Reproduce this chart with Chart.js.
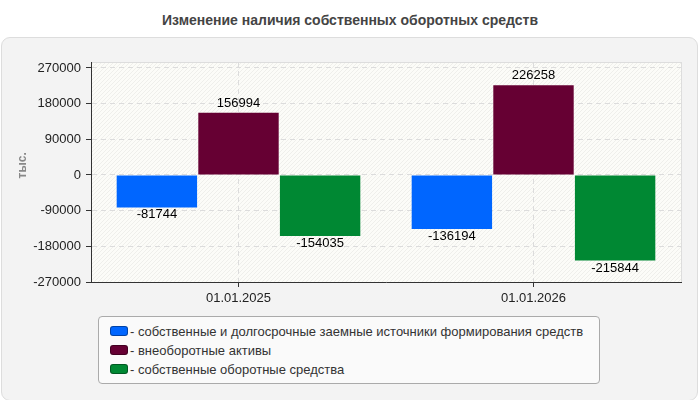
<!DOCTYPE html>
<html>
<head>
<meta charset="utf-8">
<script src="https://cdn.jsdelivr.net/npm/chart.js@4"></script>
<style>
  body { margin: 0; background: #fff; font-family: "Liberation Sans", Arial, sans-serif; }
  #wrap { position: relative; width: 700px; height: 400px; overflow: hidden; }
  #title { position: absolute; left: 0; top: 12px; width: 700px; text-align: center;
           font-weight: bold; font-size: 14px; color: #444; }
  #panel { position: absolute; left: 1px; top: 37px; width: 695px; height: 362px;
           background: #f3f3f3; border: 1px solid #ddd; border-radius: 9px; }
  #myChart { position: absolute; left: 0; top: 0; }
  #legend { position: absolute; left: 98px; top: 316px; width: 500px; height: 66px;
            background: #fafafa; border: 1px solid #aaa; border-radius: 4px; }
  .item { position: absolute; left: 11px; font-size: 13px; color: #333; line-height: 15px; white-space: nowrap; }
  .swatch { display: inline-block; width: 16px; height: 8px; border-radius: 3px;
            border: 1px solid rgba(0,0,0,0.35); margin-right: 2px; vertical-align: 0px; }
</style>
</head>
<body>
<div id="wrap">
  <div id="title">Изменение наличия собственных оборотных средств</div>
  <div id="panel"></div>
  <canvas id="myChart" width="700" height="400"></canvas>
  <div id="legend"></div>
</div>
<script>
const categories = ['01.01.2025', '01.01.2026'];
const seriesNames = [
    'собственные и долгосрочные заемные источники формирования средств',
    'внеоборотные активы',
    'собственные оборотные средства'
];
const ownAndLongTerm = [-81744, -136194];
const nonCurrentAssets = [156994, 226258];
const ownWorkingCapital = [-154035, -215844];
const seriesColors = ['#0066ff', '#660033', '#008833'];
const yTicks = [-270000, -180000, -90000, 0, 90000, 180000, 270000];
const yAxisTitle = 'тыс.';

const ctx = document.getElementById('myChart');

function makeHatch() {
    const c = document.createElement('canvas');
    c.width = 4; c.height = 4;
    const g = c.getContext('2d');
    g.fillStyle = '#fcfcf8';
    g.fillRect(0, 0, 4, 4);
    g.strokeStyle = 'rgba(0,0,0,0.05)';
    g.lineWidth = 1;
    g.beginPath();
    g.moveTo(0, 4); g.lineTo(4, 0);
    g.stroke();
    return c;
}

const plotBackground = {
    id: 'plotBackground',
    beforeDraw(chart) {
        const a = chart.chartArea;
        const g = chart.ctx;
        g.save();
        g.fillStyle = g.createPattern(makeHatch(), 'repeat');
        g.fillRect(a.left, a.top, a.right - a.left, a.bottom - a.top);
        g.strokeStyle = '#dddddd';
        g.lineWidth = 1;
        g.strokeRect(a.left + 0.5, a.top + 0.5, a.right - a.left, a.bottom - a.top);
        g.restore();
    }
};

const valueLabels = {
    id: 'valueLabels',
    afterDatasetsDraw(chart) {
        const g = chart.ctx;
        g.save();
        g.font = '13px "Liberation Sans", Arial, sans-serif';
        g.fillStyle = '#000';
        g.textAlign = 'center';
        chart.data.datasets.forEach(function (ds, i) {
            chart.getDatasetMeta(i).data.forEach(function (bar, j) {
                const v = ds.data[j];
                if (v >= 0) {
                    g.textBaseline = 'bottom';
                    g.fillText(v, bar.x, bar.y - 3);
                } else {
                    g.textBaseline = 'top';
                    g.fillText(v, bar.x, bar.y + 1);
                }
            });
        });
        g.restore();
    }
};

const seriesData = [ownAndLongTerm, nonCurrentAssets, ownWorkingCapital];

const graph = new Chart(ctx, {
    type: 'bar',
    data: {
        labels: categories,
        datasets: seriesData.map(function (d, i) {
            return {
                label: seriesNames[i],
                data: d,
                backgroundColor: seriesColors[i],
                categoryPercentage: 0.83,
                barPercentage: 0.985
            };
        })
    },
    options: {
        responsive: false,
        animation: false,
        layout: { padding: { left: 0, right: 19, top: 62, bottom: 88 } },
        plugins: {
            legend: { display: false },
            tooltip: { enabled: false }
        },
        scales: {
            x: {
                afterFit: function (s) { s.height = 30; },
                grid: {
                    offset: false,
                    color: '#dcdcdc',
                    tickColor: '#333',
                    tickLength: 5,
                    tickBorderDash: []
                },
                border: { color: '#333', width: 1, dash: [5, 4] },
                ticks: { color: '#222', padding: 4, font: { size: 13, family: '"Liberation Sans", Arial, sans-serif' } }
            },
            y: {
                min: -270000,
                max: 285000,
                afterBuildTicks: function (s) { s.ticks = yTicks.map(function (v) { return { value: v }; }); },
                afterFit: function (s) { s.width = 91; },
                grid: {
                    color: '#dcdcdc',
                    tickColor: '#333',
                    tickLength: 5,
                    tickBorderDash: []
                },
                border: { color: '#333', width: 1, dash: [5, 4] },
                ticks: {
                    color: '#222',
                    padding: 5,
                    font: { size: 13, family: '"Liberation Sans", Arial, sans-serif' },
                    callback: function (v) { return String(v); }
                },
                title: {
                    display: true,
                    text: '    ' + yAxisTitle,
                    color: '#888',
                    padding: { top: 15, bottom: 0 },
                    font: { size: 12, weight: 'bold', family: '"Liberation Sans", Arial, sans-serif' }
                }
            }
        }
    },
    plugins: [plotBackground, valueLabels]
});

// html legend
const legend = document.getElementById('legend');
seriesNames.forEach(function (name, i) {
    const row = document.createElement('div');
    row.className = 'item';
    row.style.top = (7 + i * 19) + 'px';
    row.innerHTML = '<span class="swatch" style="background:' + seriesColors[i] + '"></span>- ' + name;
    legend.appendChild(row);
});
</script>
</body>
</html>
